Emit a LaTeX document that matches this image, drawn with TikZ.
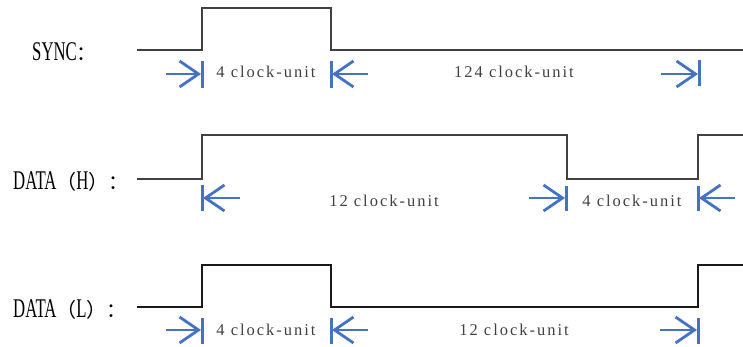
\documentclass[tikz,border=0pt]{standalone}
\usepackage{fontspec}
\setmainfont{Liberation Serif}
\newfontfamily\lblfont[FakeStretch=0.62]{Liberation Serif}
\newfontfamily\cjkfont{Noto Sans CJK SC}
\newfontfamily\unitfont[LetterSpace=12]{Liberation Serif}
\usetikzlibrary{arrows.meta}
\definecolor{dimblue}{HTML}{4472C4}
\definecolor{siggray}{HTML}{404040}
\definecolor{sigblack}{HTML}{1A1A1A}
\newcommand{\fwc}[1]{{\cjkfont\fontsize{20}{20}\selectfont #1}}
\begin{document}
\begin{tikzpicture}[x=1pt,y=-1pt,
  wave/.style={line width=1.8pt, line join=miter},
  dimbar/.style={draw=dimblue, line width=3pt},
  dimarrow/.style={draw=dimblue, line width=2.8pt, -{Straight Barb[length=19pt,width=26pt]}},
  siglabel/.style={anchor=base west, inner sep=0pt, font=\lblfont\fontsize{27}{27}\selectfont, text=black},
  unitlabel/.style={anchor=base, inner sep=0pt, font=\unitfont\fontsize{16.5}{16.5}\selectfont, text=siggray}]
\useasboundingbox (0,0) rectangle (743,347);

% ---------- SYNC ----------
\node[siglabel] (lsync) at (32,61) {SYNC\fwc{：}};
\coordinate (s0) at (137,50);
\coordinate (s1) at (202,50);
\coordinate (s2) at (202,8);
\coordinate (s3) at (331,8);
\coordinate (s4) at (331,50);
\coordinate (s5) at (743,50);
\draw[wave, draw=siggray] (s0) -- (s1) -- (s2) -- (s3) -- (s4) -- (s5);
\coordinate (sb1t) at (202,61); \coordinate (sb1b) at (202,88);
\coordinate (sb2t) at (331,61); \coordinate (sb2b) at (331,88);
\coordinate (sb3t) at (699,60); \coordinate (sb3b) at (699,86);
\draw[dimbar] (sb1t) -- (sb1b);
\draw[dimbar] (sb2t) -- (sb2b);
\draw[dimbar] (sb3t) -- (sb3b);
\coordinate (sa1s) at (166,74); \coordinate (sa1e) at (201,74);
\coordinate (sa2s) at (368,74); \coordinate (sa2e) at (332,74);
\coordinate (sa3s) at (661,74); \coordinate (sa3e) at (698,74);
\draw[dimarrow] (sa1s) -- (sa1e);
\draw[dimarrow] (sa2s) -- (sa2e);
\draw[dimarrow] (sa3s) -- (sa3e);
\node[unitlabel] (st1) at (266,78) {4 clock-unit};
\node[unitlabel] (st2) at (514,78) {124 clock-unit};

% ---------- DATA(H) ----------
\node[siglabel] (ldh) at (13,190) {DATA\fwc{（}H\fwc{）：}};
\coordinate (h0) at (137,179);
\coordinate (h1) at (202,179);
\coordinate (h2) at (202,135);
\coordinate (h3) at (567,135);
\coordinate (h4) at (567,179);
\coordinate (h5) at (698,179);
\coordinate (h6) at (698,135);
\coordinate (h7) at (743,135);
\draw[wave, draw=siggray] (h0) -- (h1) -- (h2) -- (h3) -- (h4) -- (h5) -- (h6) -- (h7);
\coordinate (hb1t) at (202,185); \coordinate (hb1b) at (202,211);
\coordinate (hb2t) at (566,186); \coordinate (hb2b) at (566,211);
\coordinate (hb3t) at (698,186); \coordinate (hb3b) at (698,211);
\draw[dimbar] (hb1t) -- (hb1b);
\draw[dimbar] (hb2t) -- (hb2b);
\draw[dimbar] (hb3t) -- (hb3b);
\coordinate (ha1s) at (240,198); \coordinate (ha1e) at (203,198);
\coordinate (ha2s) at (529,198); \coordinate (ha2e) at (565,198);
\coordinate (ha3s) at (735,198); \coordinate (ha3e) at (699,198);
\draw[dimarrow] (ha1s) -- (ha1e);
\draw[dimarrow] (ha2s) -- (ha2e);
\draw[dimarrow] (ha3s) -- (ha3e);
\node[unitlabel] (ht1) at (384,207) {12 clock-unit};
\node[unitlabel] (ht2) at (632,207) {4 clock-unit};

% ---------- DATA(L) ----------
\node[siglabel] (ldl) at (13,317) {DATA\fwc{（}L\fwc{）：}};
\coordinate (l0) at (137,307);
\coordinate (l1) at (202,307);
\coordinate (l2) at (202,265);
\coordinate (l3) at (331,265);
\coordinate (l4) at (331,307);
\coordinate (l5) at (698,307);
\coordinate (l6) at (698,265);
\coordinate (l7) at (743,265);
\draw[wave, draw=sigblack] (l0) -- (l1) -- (l2) -- (l3) -- (l4) -- (l5) -- (l6) -- (l7);
\coordinate (lb1t) at (202,318); \coordinate (lb1b) at (202,344);
\coordinate (lb2t) at (331,318); \coordinate (lb2b) at (331,344);
\coordinate (lb3t) at (698,318); \coordinate (lb3b) at (698,344);
\draw[dimbar] (lb1t) -- (lb1b);
\draw[dimbar] (lb2t) -- (lb2b);
\draw[dimbar] (lb3t) -- (lb3b);
\coordinate (la1s) at (166,330); \coordinate (la1e) at (201,330);
\coordinate (la2s) at (368,330); \coordinate (la2e) at (332,330);
\coordinate (la3s) at (660,330); \coordinate (la3e) at (697,330);
\draw[dimarrow] (la1s) -- (la1e);
\draw[dimarrow] (la2s) -- (la2e);
\draw[dimarrow] (la3s) -- (la3e);
\node[unitlabel] (lt1) at (266,335) {4 clock-unit};
\node[unitlabel] (lt2) at (514,335) {12 clock-unit};
\end{tikzpicture}
\end{document}
